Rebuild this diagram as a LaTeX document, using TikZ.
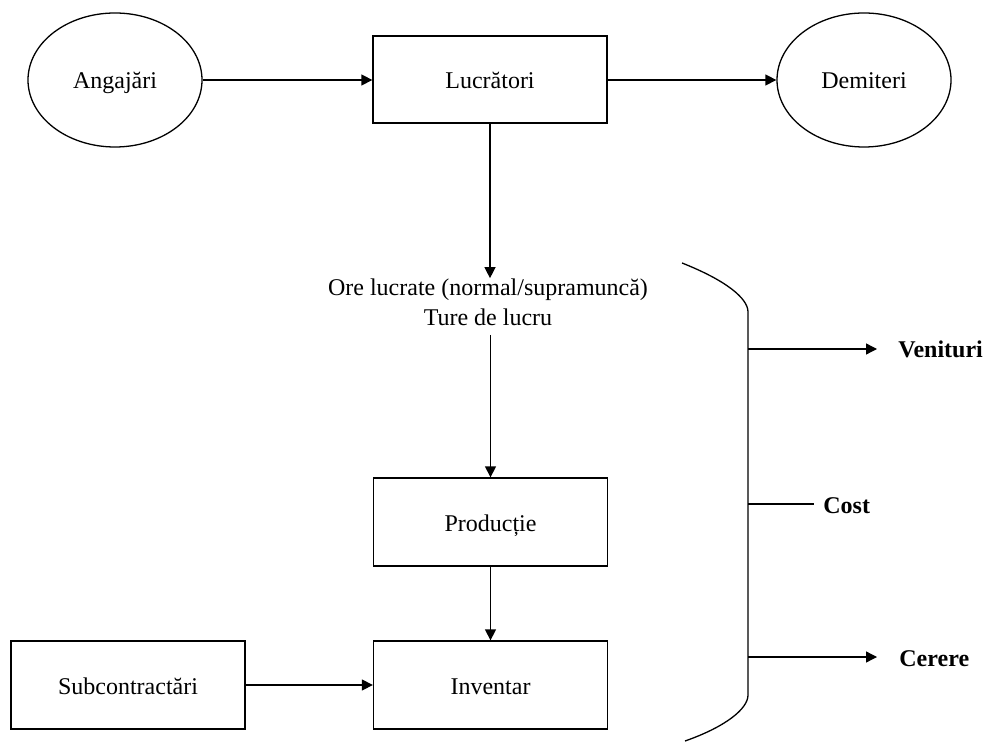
\documentclass[tikz,border=0pt]{standalone}
\usepackage{fontspec}
\setmainfont{Liberation Serif}
\usetikzlibrary{arrows.meta,shapes.geometric}

\tikzset{
  conn/.style={line width=0.65pt},
  arr/.style={conn,-{Triangle[length=5.5pt,width=5.5pt]}},
  txt/.style={text height=10.5pt,text depth=1.5pt},
  boxnode/.style={draw,line width=0.65pt,rectangle,minimum width=117pt,minimum height=44pt,inner sep=0pt,txt},
  ovalnode/.style={draw,line width=0.65pt,ellipse,minimum width=87pt,minimum height=67pt,inner sep=0pt,txt},
  outlabel/.style={font=\fontsize{12}{15}\selectfont\bfseries,anchor=west,inner ysep=0pt,txt}
}

\begin{document}
\begin{tikzpicture}[x=0.5pt,y=-0.5pt,font=\fontsize{12}{15}\selectfont]
\useasboundingbox (0,0) rectangle (989,742);

% top row
\node[ovalnode] (ang) at (115,80) {Angajări};
\node[boxnode,minimum height=43.5pt] (luc) at (490,79.5) {Lucrători};
\node[ovalnode] (dem) at (864,80) {Demiteri};

% middle column
\node[align=center,inner sep=0pt] (ore) at (488,302) {Ore lucrate (normal/supramuncă)\\Ture de lucru};
\node[boxnode] (prod) at (490.5,522) {Producție};
\node[boxnode] (inv) at (490.5,685) {Inventar};
\node[boxnode] (sub) at (128,685) {Subcontractări};

% flows
\draw[arr] (ang.east) -- (luc.west |- ang.east);
\draw[arr] (luc.east |- dem.west) -- (dem.west);
\draw[arr] (luc.south) -- (luc.south |- ore.north);
\draw[arr] ([yshift=-4.5pt]prod.north |- ore.south) -- (prod.north);
\draw[arr] (prod.south) -- (inv.north);
\draw[arr] (sub.east) -- (inv.west);

% bracket on the right
\draw[conn] (682,263) .. controls (725,280) and (748,298) .. (748,312)
  -- (748,695) .. controls (748,709) and (725,727) .. (685,741);
\coordinate (bv) at (748,349);
\coordinate (bc) at (748,504);
\coordinate (bd) at (748,657);

\node[outlabel,inner xsep=10.5pt] (ven) at (877,349) {Venituri};
\node[outlabel,inner xsep=4.5pt] (cost) at (814,504) {Cost};
\node[outlabel,inner xsep=11pt] (cer) at (877,657) {Cerere};

\draw[arr] (bv) -- (ven.west);
\draw[conn] (bc) -- (cost.west);
\draw[arr] (bd) -- (cer.west);
\end{tikzpicture}
\end{document}
